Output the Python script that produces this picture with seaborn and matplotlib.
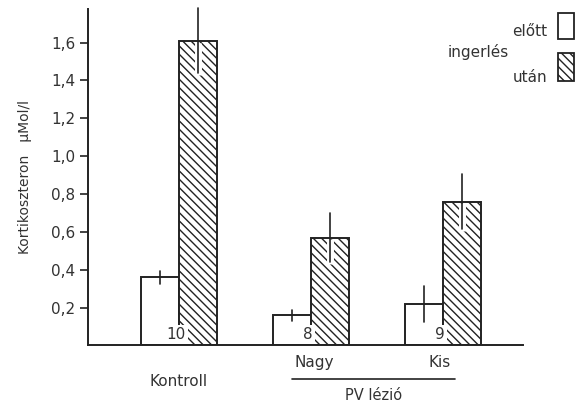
import matplotlib
matplotlib.use("Agg")
import matplotlib.pyplot as plt
import seaborn as sns
import pandas as pd
import numpy as np
from matplotlib.patches import Rectangle
from matplotlib.lines import Line2D

# ---- data ----
groups = ["Kontroll", "Nagy", "Kis"]
phases = ["előtt", "után"]
elott_mean = [0.36, 0.16, 0.22]
elott_err = [0.035, 0.03, 0.095]
utan_mean = [1.61, 0.57, 0.76]
utan_err = [0.17, 0.13, 0.145]
n_labels = ["10", "8", "9"]
yticks = [0.2, 0.4, 0.6, 0.8, 1.0, 1.2, 1.4, 1.6]
ytick_labels = ["0,2", "0,4", "0,6", "0,8", "1,0", "1,2", "1,4", "1,6"]

df = pd.DataFrame({
    "group": groups * 2,
    "phase": [phases[0]] * 3 + [phases[1]] * 3,
    "value": elott_mean + utan_mean,
})

sns.set_style("white")
plt.rcParams["font.family"] = ["DejaVu Sans"]
plt.rcParams["hatch.linewidth"] = 1.0
plt.rcParams["hatch.color"] = "#222222"

ink = "#222222"
txt = "#333333"

fig = plt.figure(figsize=(5.82, 4.03), dpi=100)
ax = fig.add_axes([0.1512, 0.1427, 0.7474, 0.835])

sns.barplot(data=df, x="group", y="value", hue="phase", order=groups,
            hue_order=phases, width=0.576, palette=["white", "white"],
            edgecolor=ink, linewidth=1.4, legend=False, ax=ax, errorbar=None)

cont_e, cont_u = ax.containers[0], ax.containers[1]
for p in cont_u:
    p.set_hatch("\\\\\\\\")

# error bars
for p, m, e in zip(cont_e, elott_mean, elott_err):
    xc = p.get_x() + p.get_width() / 2
    ax.plot([xc, xc], [m - e, m + e], color=ink, lw=1.2, zorder=5, clip_on=False)
for p, m, e in zip(cont_u, utan_mean, utan_err):
    xc = p.get_x() + p.get_width() / 2
    ax.plot([xc, xc], [m - e - 0.01, m - 0.01], color="white", lw=5, zorder=4,
            solid_capstyle="butt")
    ax.plot([xc, xc], [m - e, m + e], color=ink, lw=1.2, zorder=5, clip_on=False)

# n labels
for p, lab in zip(cont_u, n_labels):
    xb = p.get_x()
    ax.text(xb - 0.022, 0.058, lab, ha="center", va="center", fontsize=11,
            color=txt, zorder=6,
            bbox=dict(boxstyle="square,pad=0.15", fc="white", ec="none"))

ax.set_xlim(-0.69, 2.61)
ax.set_ylim(0, 1.777)
ax.set_yticks(yticks)
ax.set_yticklabels(ytick_labels, fontsize=11, color=txt)
ax.tick_params(axis="y", direction="out", length=6, width=1.2, color=ink, pad=3, left=True)
ax.tick_params(axis="x", bottom=False, labelbottom=False)
ax.set_xlabel("")
ax.set_ylabel("Kortikoszteron   \u03bcMol/l", fontsize=10, color=txt, labelpad=14)
for s in ["top", "right"]:
    ax.spines[s].set_visible(False)
for s in ["left", "bottom"]:
    ax.spines[s].set_color(ink)
    ax.spines[s].set_linewidth(1.4)

# x labels
xt = ax.get_xticks()
trans = ax.get_xaxis_transform()
ax.text(xt[0], -0.107, groups[0], ha="center", va="center", fontsize=11, color=txt,
        transform=trans)
ax.text(xt[1] + 0.03, -0.052, groups[1], ha="center", va="center", fontsize=11,
        color=txt, transform=trans)
ax.text(xt[2] - 0.02, -0.052, groups[2], ha="center", va="center", fontsize=11,
        color=txt, transform=trans)
ax.add_line(Line2D([(292 - 179) / 132, (455 - 179) / 132], [-0.1, -0.1], color=ink,
                   lw=1.2, transform=trans, clip_on=False))
ax.text((374 - 179) / 132, -0.148, "PV lézió", ha="center", va="center",
        fontsize=10.5, color=txt, transform=trans)

# legend (figure coords in px)
W, H = 582, 403
def fx(px):
    return px / W
def fy(py):
    return 1 - py / H

fig.patches.append(Rectangle((fx(558), fy(39)), 16 / W, 26 / H, fill=False,
                             edgecolor=ink, lw=1.3, transform=fig.transFigure))
fig.patches.append(Rectangle((fx(558), fy(81)), 16 / W, 28 / H, facecolor="white",
                             edgecolor=ink, lw=1.3, hatch="\\\\\\\\",
                             transform=fig.transFigure))
fig.text(fx(547), fy(31), "előtt", ha="right", va="center", fontsize=11, color=txt)
fig.text(fx(448), fy(52), "ingerlés", ha="left", va="center", fontsize=11, color=txt)
fig.text(fx(547), fy(77), "után", ha="right", va="center", fontsize=11, color=txt)

fig.savefig("out.png", dpi=100)
